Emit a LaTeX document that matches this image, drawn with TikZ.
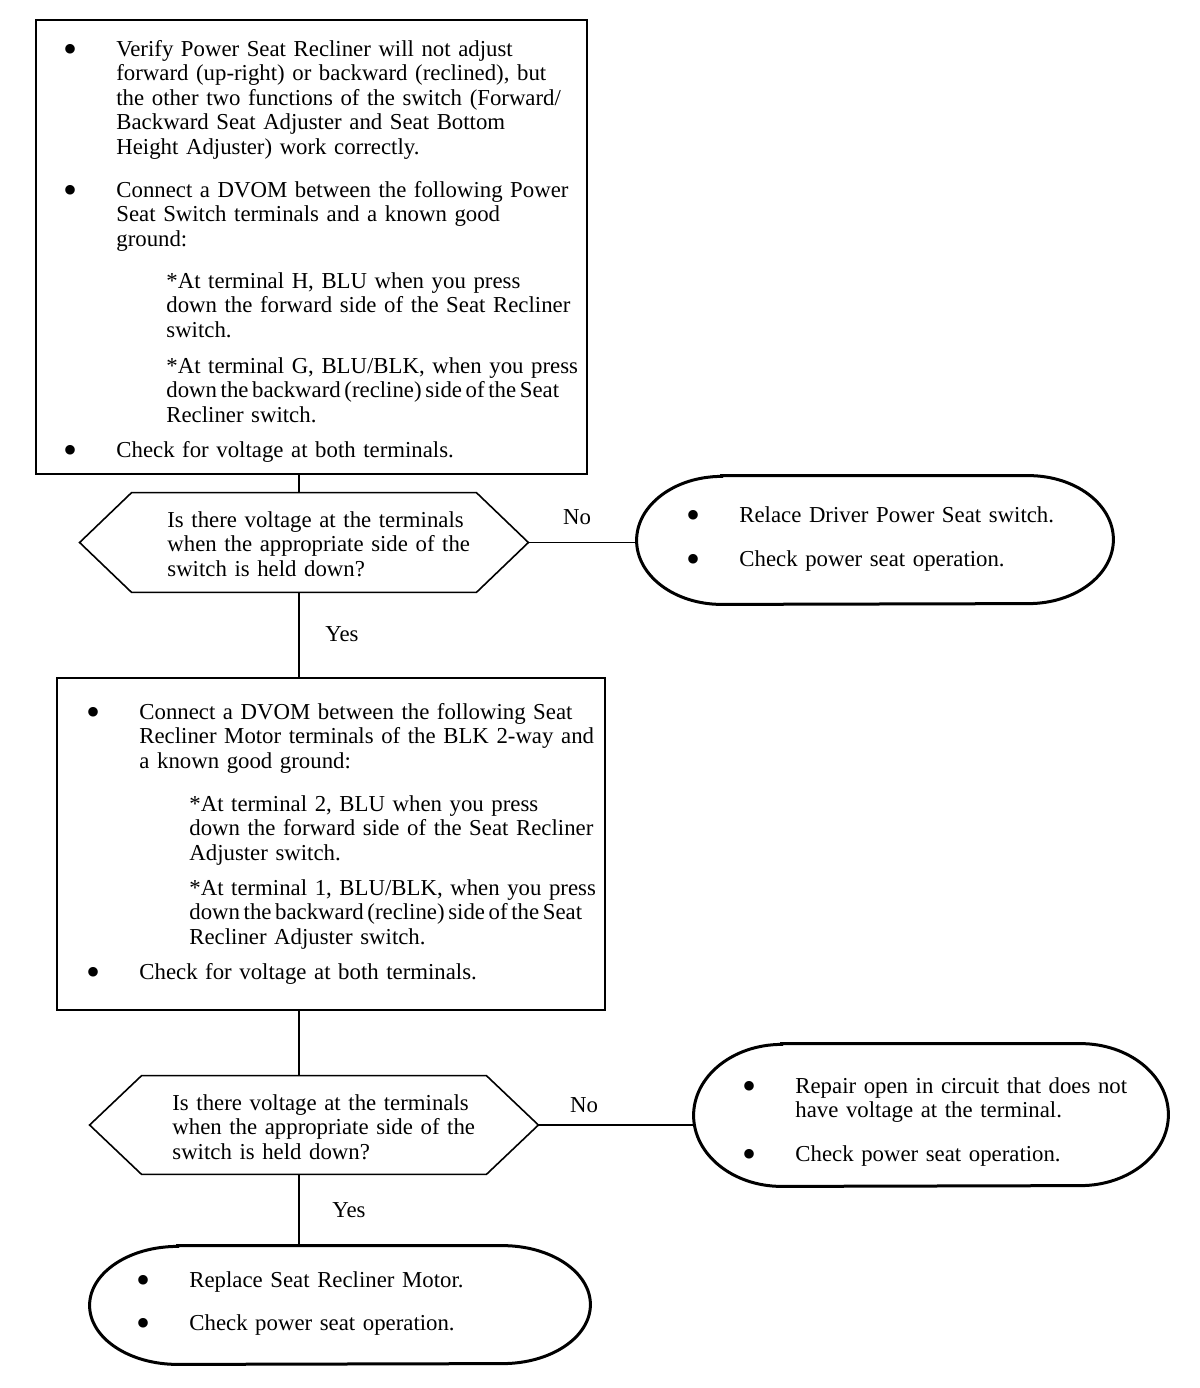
\documentclass[tikz,border=0pt]{standalone}
\usepackage{fontspec}
\setmainfont{Liberation Serif}
\usepackage{tikz}
\usetikzlibrary{positioning}
\usetikzlibrary{calc}

\newcommand\bul{\noindent\llap{\makebox[0pt][c]{\raisebox{-3pt}{\fontsize{20}{20}\selectfont\textbullet}}\hspace{23pt}}}
\newcommand\subpar[1]{{\leftskip=25pt #1\par}}
\newcommand\tightline[1]{{\spaceskip=0.16em\relax #1}}
\newcommand\hexbox[2]{\draw[HexLine] (#1.west) -- ($(#1.north west)+(#2,0)$) -- ($(#1.north east)+(-#2,0)$) -- (#1.east) -- ($(#1.south east)+(-#2,0)$) -- ($(#1.south west)+(#2,0)$) -- cycle;}
\newcommand\ovalbox[3]{\draw[OvalLine] ($(#1.north west)+(#2,0)$) -- ($(#1.north east)+(-#2,0)$) arc[start angle=-90,end angle=90,x radius=#2,y radius=#3] -- ($(#1.south west)+(#2,0)$) arc[start angle=90,end angle=270,x radius=#2,y radius=#3] -- cycle;}

\begin{document}
\begin{tikzpicture}[x=0.5pt,y=-0.5pt]
	\tikzstyle{BoxStyle}  = [draw, line width=1pt, inner sep=0pt]
	\tikzstyle{ShapeStyle}= [draw=none, inner sep=0pt]
	\tikzstyle{HexLine}   = [line width=0.8pt, line join=miter]
	\tikzstyle{OvalLine}  = [line width=1.5pt]
	\tikzstyle{TextStyle} = [anchor=base west, inner sep=0pt, text width=300pt, align=left, font=\fontsize{11.4}{12.25}\selectfont]
	\tikzstyle{LabelStyle}= [anchor=base, inner sep=0pt, font=\fontsize{11.4}{12.25}\selectfont]
	\tikzstyle{EdgeStyle} = [line width=0.9pt]
	\fill[white] (0,0) rectangle (1200,1388);
	\useasboundingbox (0,0) rectangle (1200,1388);
	\coordinate (trunk) at (299,0);
	% boxes
	\node[BoxStyle, minimum width=275.5pt, minimum height=227pt] (check) at (311.5,247) {};
	\node[BoxStyle, minimum width=274pt, minimum height=166pt] (motor) at (331,844) {};
	% decisions
	\node[ShapeStyle, minimum width=224pt, minimum height=49.5pt] (ask1) at (304,542.5) {};
	\node[ShapeStyle, minimum width=224pt, minimum height=49pt] (ask2) at (314,1125) {};
	\hexbox{ask1}{52}
	\hexbox{ask2}{52}
	% end points
	\node[ShapeStyle, minimum width=238pt, minimum height=64pt] (swap) at (875,540) {};
	\node[ShapeStyle, minimum width=237pt, minimum height=71pt] (repair) at (931,1115) {};
	\node[ShapeStyle, minimum width=250pt, minimum height=59pt] (motorok) at (340,1305) {};
	\ovalbox{swap}{85}{64}
	\ovalbox{repair}{88}{71}
	\ovalbox{motorok}{88}{59}
	% texts
	\node[TextStyle] (checktxt) at (116,56) {%
		\bul Verify Power Seat Recliner will not adjust\\
		forward (up-right) or backward (reclined), but\\
		the other two functions of the switch (Forward/\\
		Backward Seat Adjuster and Seat Bottom\\
		Height Adjuster) work correctly.\par
		\vspace{9.25pt}
		\bul Connect a DVOM between the following Power\\
		Seat Switch terminals and a known good\\
		ground:\par
		\vspace{8.75pt}
		\subpar{*At terminal H, BLU when you press\\
		down the forward side of the Seat Recliner\\
		switch.}
		\vspace{5.75pt}
		\subpar{*At terminal G, BLU/BLK, when you press\\
		\tightline{down the backward (recline) side of the Seat}\\
		Recliner switch.}
		\vspace{5.25pt}
		\bul Check for voltage at both terminals.};
	\node[TextStyle] (motortxt) at (139,719) {%
		\bul Connect a DVOM between the following Seat\\
		Recliner Motor terminals of the BLK 2-way and\\
		a known good ground:\par
		\vspace{9.25pt}
		\subpar{*At terminal 2, BLU when you press\\
		down the forward side of the Seat Recliner\\
		Adjuster switch.}
		\vspace{5.25pt}
		\subpar{*At terminal 1, BLU/BLK, when you press\\
		\tightline{down the backward (recline) side of the Seat}\\
		Recliner Adjuster switch.}
		\vspace{5.25pt}
		\bul Check for voltage at both terminals.};
	\node[TextStyle] (ask1txt) at (167,527) {Is there voltage at the terminals\\
		when the appropriate side of the\\
		switch is held down?};
	\node[TextStyle] (ask2txt) at (172,1110) {Is there voltage at the terminals\\
		when the appropriate side of the\\
		switch is held down?};
	\node[TextStyle] (swaptxt) at (739,522) {%
		\bul Relace Driver Power Seat switch.\par
		\vspace{9.75pt}
		\bul Check power seat operation.};
	\node[TextStyle] (repairtxt) at (795,1093) {%
		\bul Repair open in circuit that does not\\
		have voltage at the terminal.\par
		\vspace{9.75pt}
		\bul Check power seat operation.};
	\node[TextStyle] (motoroktxt) at (189,1287) {%
		\bul Replace Seat Recliner Motor.\par
		\vspace{9.25pt}
		\bul Check power seat operation.};
	% connectors
	\draw[EdgeStyle] (check.south -| trunk) -- (ask1.north -| trunk);
	\draw[EdgeStyle] (ask1.south -| trunk) -- (motor.north -| trunk);
	\draw[EdgeStyle] (motor.south -| trunk) -- (ask2.north -| trunk);
	\draw[EdgeStyle] (ask2.south -| trunk) -- (motorok.north -| trunk);
	\draw[EdgeStyle] (ask1.east) -- (ask1.east -| swap.west);
	\draw[EdgeStyle] (ask2.east) -- (ask2.east -| repair.west);
	% labels
	\node[LabelStyle] (no1) at (577,524) {No};
	\node[LabelStyle] (yes1) at (342,641) {Yes};
	\node[LabelStyle] (no2) at (584,1112) {No};
	\node[LabelStyle] (yes2) at (349,1217) {Yes};
\end{tikzpicture}
\end{document}
